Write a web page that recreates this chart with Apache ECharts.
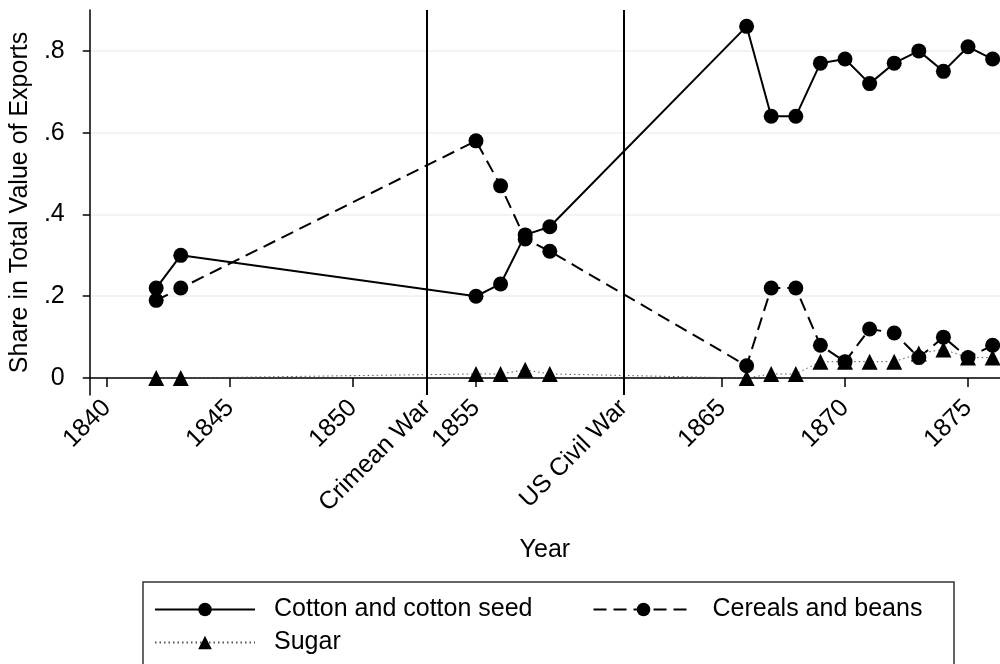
<!DOCTYPE html>
<html>
<head>
<meta charset="utf-8">
<script src="https://cdn.jsdelivr.net/npm/echarts@6/dist/echarts.min.js"></script>
<style>
  html, body { margin: 0; padding: 0; background: #fff; }
  #chart { width: 1000px; height: 664px; }
</style>
</head>
<body>
<div id="chart"></div>
<script>
// years with observations
var years = [1842, 1843, 1855, 1856, 1857, 1858, 1866, 1867, 1868, 1869, 1870, 1871, 1872, 1873, 1874, 1875, 1876];
var cotton = [0.22, 0.30, 0.20, 0.23, 0.35, 0.37, 0.86, 0.64, 0.64, 0.77, 0.78, 0.72, 0.77, 0.80, 0.75, 0.81, 0.78];
var cereals = [0.19, 0.22, 0.58, 0.47, 0.34, 0.31, 0.03, 0.22, 0.22, 0.08, 0.04, 0.12, 0.11, 0.05, 0.10, 0.05, 0.08];
var sugar = [0.00, 0.00, 0.01, 0.01, 0.02, 0.01, 0.00, 0.01, 0.01, 0.04, 0.04, 0.04, 0.04, 0.06, 0.07, 0.05, 0.05];

var xTicks = [1840, 1845, 1850, 1853, 1855, 1861, 1865, 1870, 1875];
var events = { 1853: 'Crimean War', 1861: 'US Civil War' };
var yTicks = [0, 0.2, 0.4, 0.6, 0.8];

var font = 'Liberation Sans, Arial, sans-serif';

function pairs(vals) {
  return years.map(function (y, i) { return [y, vals[i]]; });
}

var chart = echarts.init(document.getElementById('chart'));

var option = {
  animation: false,
  backgroundColor: '#fff',
  textStyle: { fontFamily: font, color: '#000' },
  grid: { left: 88, right: 0, top: 10, bottom: 269, containLabel: false },
  xAxis: {
    type: 'value',
    min: 1839.3,
    max: 1876.3,
    name: 'Year',
    nameLocation: 'middle',
    nameGap: 143,
    nameTextStyle: { fontSize: 25, color: '#000', fontFamily: font },
    axisLine: { show: true, lineStyle: { color: '#000', width: 1.5 } },
    axisTick: { show: true, length: 9, customValues: xTicks, lineStyle: { color: '#000', width: 1.5 } },
    axisLabel: {
      customValues: xTicks,
      rotate: 45,
      margin: 9,
      fontSize: 25,
      color: '#000',
      fontFamily: font,
      formatter: function (v) { return events[v] || String(v); }
    },
    splitLine: { show: false }
  },
  yAxis: {
    type: 'value',
    min: -0.0415,
    max: 0.9,
    name: 'Share in Total Value of Exports',
    nameLocation: 'middle',
    nameGap: 54,
    nameRotate: 90,
    nameTextStyle: { fontSize: 25, color: '#000', fontFamily: font },
    axisLine: { show: true, lineStyle: { color: '#000', width: 1.5 } },
    axisTick: { show: true, length: 7, customValues: yTicks, lineStyle: { color: '#000', width: 1.5 } },
    axisLabel: {
      customValues: yTicks,
      margin: 25,
      fontSize: 25,
      color: '#000',
      fontFamily: font,
      formatter: function (v) { return v === 0 ? '0' : String(+v.toFixed(1)).replace('0.', '.'); }
    },
    splitLine: { show: true, lineStyle: { color: '#eaf2f3', width: 1.5 } }
  },
  legend: [
    {
      data: ['Cotton and cotton seed', 'Cereals and beans'],
      left: 149,
      top: 592,
      itemWidth: 100,
      itemHeight: 17,
      itemGap: 60,
      textStyle: { fontSize: 25, color: '#000', fontFamily: font, padding: [0, 0, 0, 14] }
    },
    {
      data: ['Sugar'],
      left: 149,
      top: 625,
      itemWidth: 100,
      itemHeight: 17,
      textStyle: { fontSize: 25, color: '#000', fontFamily: font, padding: [0, 0, 0, 14] }
    }
  ],
  graphic: [
    {
      type: 'rect',
      shape: { x: 143, y: 582, width: 811, height: 120 },
      style: { fill: 'none', stroke: '#333', lineWidth: 1.5 },
      silent: true
    }
  ],
  series: [
    {
      name: 'Cotton and cotton seed',
      type: 'line',
      data: pairs(cotton),
      symbol: 'circle',
      symbolSize: 15,
      itemStyle: { color: '#000' },
      lineStyle: { color: '#000', width: 2, type: 'solid' },
      markLine: {
        silent: true,
        symbol: 'none',
        label: { show: false },
        lineStyle: { color: '#000', width: 2, type: 'solid' },
        data: [{ xAxis: 1853 }, { xAxis: 1861 }]
      }
    },
    {
      name: 'Cereals and beans',
      type: 'line',
      data: pairs(cereals),
      symbol: 'circle',
      symbolSize: 15,
      itemStyle: { color: '#000' },
      lineStyle: { color: '#000', width: 2, type: [13, 7] }
    },
    {
      name: 'Sugar',
      type: 'line',
      data: pairs(sugar),
      symbol: 'triangle',
      symbolSize: 16,
      itemStyle: { color: '#000' },
      lineStyle: { color: '#555', width: 1, type: [1.5, 3] }
    }
  ]
};

chart.setOption(option);
</script>
</body>
</html>
